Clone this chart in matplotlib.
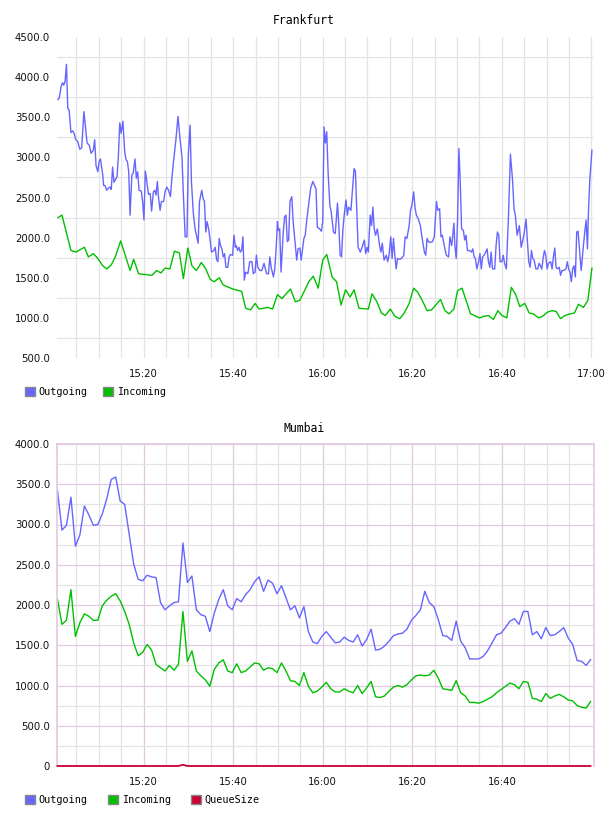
import matplotlib
matplotlib.use('Agg')
import matplotlib.pyplot as plt
from matplotlib.patches import Patch
import numpy as np

# time axis: minutes after 15:00
fra_out_t = [0.9, 1.2, 1.6, 1.9, 2.2, 2.5, 2.8, 3.1, 3.4, 3.8,
             4.2, 4.5, 4.9, 5.3, 5.8, 6.2, 6.7, 7.1, 7.4, 7.9,
             8.3, 8.8, 9.1, 9.4, 9.8, 10.1, 10.4, 10.9, 11.1, 11.4,
             11.8, 12.2, 12.6, 12.8, 13.1, 13.4, 13.8, 14.1, 14.4, 14.7,
             15.0, 15.4, 15.8, 16.1, 16.4, 16.7, 17.0, 17.4, 17.7, 18.1,
             18.4, 18.7, 19.0, 19.5, 19.8, 20.1, 20.4, 20.7, 21.1, 21.5,
             21.8, 22.2, 22.5, 22.8, 23.1, 23.3, 23.7, 24.0, 24.5, 24.8,
             25.2, 25.6, 26.0, 26.3, 26.7, 27.2, 27.7, 28.1, 28.6, 28.9,
             29.3, 29.7, 30.0, 30.4, 30.7, 31.1, 31.5, 31.9, 32.2, 32.5,
             33.0, 33.3, 33.6, 33.9, 34.2, 34.6, 34.9, 35.2, 35.7, 36.0,
             36.3, 36.6, 36.9, 37.2, 37.5, 37.8, 38.1, 38.4, 38.8, 39.1,
             39.4, 39.9, 40.2, 40.5, 40.7, 41.0, 41.3, 41.6, 41.9, 42.2,
             42.5, 42.8, 43.3, 43.7, 44.2, 44.5, 44.9, 45.2, 45.5, 46.0,
             46.4, 46.9, 47.2, 47.5, 47.9, 48.2, 48.5, 49.0, 49.3, 49.6,
             49.9, 50.1, 50.4, 50.7, 51.2, 51.5, 51.8, 52.1, 52.4, 52.7,
             53.1, 53.4, 53.9, 54.2, 54.5, 54.9, 55.2, 55.5, 55.8, 56.1,
             56.4, 56.9, 57.3, 57.8, 58.2, 58.5, 58.8, 59.3, 59.7, 60.0,
             60.3, 60.6, 60.9, 61.2, 61.6, 61.9, 62.4, 62.8, 63.3, 63.6,
             63.9, 64.2, 64.5, 64.8, 65.2, 65.5, 65.8, 66.3, 66.6, 67.0,
             67.3, 67.6, 67.9, 68.4, 68.8, 69.3, 69.6, 69.9, 70.2, 70.6,
             70.9, 71.2, 71.5, 71.8, 72.2, 72.7, 73.0, 73.3, 73.7, 74.2,
             74.5, 74.8, 75.2, 75.5, 75.8, 76.1, 76.4, 76.7, 77.2, 77.6,
             78.1, 78.4, 78.8, 79.3, 79.6, 79.9, 80.3, 80.6, 80.9, 81.3,
             81.8, 82.2, 82.7, 83.0, 83.3, 83.6, 84.0, 84.5, 84.9, 85.4,
             85.7, 86.1, 86.4, 86.7, 87.2, 87.6, 88.1, 88.4, 88.8, 89.3,
             89.5, 89.8, 90.1, 90.4, 90.7, 91.0, 91.4, 91.7, 92.0, 92.3,
             92.7, 93.2, 93.5, 93.8, 94.1, 94.4, 94.8, 95.1, 95.4, 95.7,
             96.0, 96.4, 96.7, 97.0, 97.3, 97.6, 97.9, 98.4, 98.7, 99.0,
             99.3, 99.6, 100.0, 100.3, 100.6, 101.0, 101.5, 101.9, 102.4, 102.7,
             103.0, 103.4, 103.9, 104.3, 104.6, 104.9, 105.4, 105.7, 106.0, 106.3,
             106.6, 106.9, 107.2, 107.6, 108.0, 108.3, 108.6, 108.9, 109.2, 109.5,
             109.8, 110.1, 110.4, 110.9, 111.2, 111.5, 111.8, 112.1, 112.4, 112.8,
             113.1, 113.4, 113.8, 114.3, 114.6, 114.9, 115.2, 115.5, 115.8, 116.1,
             116.4, 116.7, 117.0, 117.4, 117.7, 118.2, 118.5, 118.8, 119.1, 119.3,
             119.6, 120.1]
fra_out = [3720, 3740, 3880, 3930, 3900, 3950, 4160, 3610, 3590, 3310,
           3330, 3300, 3220, 3200, 3100, 3120, 3570, 3340, 3180, 3150,
           3050, 3090, 3220, 2900, 2820, 2950, 2980, 2780, 2650, 2650,
           2590, 2620, 2630, 2600, 2880, 2690, 2730, 2760, 3030, 3430,
           3300, 3450, 3070, 2970, 2950, 2820, 2280, 2780, 2800, 2980,
           2740, 2820, 2590, 2580, 2450, 2220, 2830, 2720, 2540, 2550,
           2330, 2570, 2590, 2530, 2700, 2530, 2340, 2450, 2450, 2570,
           2630, 2590, 2510, 2720, 2950, 3200, 3510, 3260, 2990, 2530,
           2010, 2010, 3030, 3400, 2700, 2320, 2110, 2010, 1930, 2450,
           2590, 2490, 2450, 2070, 2200, 2090, 1950, 1820, 1840, 1880,
           1730, 1700, 1990, 1900, 1860, 1760, 1800, 1630, 1630, 1760,
           1790, 1780, 2030, 1880, 1900, 1840, 1880, 1820, 1840, 2010,
           1470, 1570, 1550, 1700, 1700, 1550, 1570, 1780, 1630, 1590,
           1590, 1680, 1610, 1550, 1550, 1760, 1630, 1510, 1610, 1860,
           2200, 2090, 2110, 1570, 2070, 2260, 2280, 1950, 1970, 2450,
           2510, 2200, 1900, 1720, 1860, 1870, 1720, 1860, 1990, 2030,
           2200, 2430, 2610, 2700, 2650, 2610, 2130, 2110, 2080, 2200,
           3380, 3180, 3320, 2820, 2400, 2320, 2070, 2050, 2430, 2150,
           1780, 1760, 2090, 2280, 2470, 2280, 2380, 2340, 2570, 2860,
           2830, 2360, 1880, 1820, 1880, 1970, 1800, 1880, 1820, 2280,
           2150, 2380, 2110, 2030, 2110, 1900, 1820, 1930, 1720, 1780,
           1700, 1780, 2010, 1740, 1990, 1780, 1610, 1740, 1730, 1740,
           1780, 2010, 1990, 2150, 2340, 2400, 2570, 2380, 2280, 2240,
           2150, 1990, 1820, 1780, 1990, 1950, 1940, 1950, 2010, 2450,
           2340, 2360, 2010, 2030, 1880, 1780, 1760, 2010, 1900, 2180,
           1900, 1740, 2200, 3110, 2700, 2110, 2090, 1970, 2030, 1840,
           1840, 1820, 1860, 1760, 1740, 1610, 1700, 1800, 1610, 1760,
           1780, 1820, 1860, 1700, 1630, 1820, 1610, 1610, 1900, 2070,
           2030, 1700, 1700, 1780, 1680, 1610, 2320, 3040, 2700, 2360,
           2280, 2030, 2150, 1880, 1950, 2030, 2230, 1950, 1700, 1630,
           1840, 1740, 1720, 1610, 1610, 1680, 1650, 1610, 1740, 1840,
           1780, 1610, 1680, 1700, 1610, 1760, 1870, 1630, 1610, 1630,
           1530, 1590, 1590, 1610, 1700, 1610, 1570, 1450, 1610, 1650,
           1510, 2070, 2080, 1800, 1590, 1900, 2070, 2220, 1860, 2280,
           2700, 3090]

fra_in_t = [0.9, 1.8, 3.8, 4.9, 6.8, 7.7, 8.8, 9.8, 10.9, 11.8,
            12.8, 13.7, 14.9, 17.0, 17.8, 18.9, 21.9, 22.9, 23.9, 24.8,
            25.9, 26.9, 28.0, 28.9, 29.9, 30.8, 31.8, 32.9, 33.9, 34.9,
            35.8, 36.9, 37.8, 39.9, 41.9, 42.8, 43.9, 44.9, 45.8, 47.8,
            48.8, 49.9, 50.9, 52.8, 53.9, 54.9, 56.9, 57.9, 59.0, 60.0,
            60.9, 62.1, 63.1, 64.1, 65.1, 66.1, 67.0, 68.1, 70.2, 71.0,
            72.1, 73.1, 74.0, 75.1, 76.1, 77.2, 78.2, 79.3, 80.3, 81.2,
            82.2, 83.3, 84.3, 86.3, 87.3, 88.2, 89.3, 90.1, 91.1, 93.0,
            95.0, 96.0, 97.0, 98.1, 99.1, 100.0, 101.1, 102.1, 103.0, 104.0,
            105.1, 106.1, 107.0, 108.2, 109.1, 110.1, 111.2, 112.1, 113.1, 114.1,
            115.2, 116.2, 117.1, 118.2, 119.2, 120.1]
fra_in = [2250, 2280, 1840, 1820, 1880, 1760, 1800, 1740, 1650, 1610,
          1660, 1760, 1960, 1590, 1730, 1550, 1530, 1590, 1560, 1620,
          1610, 1830, 1810, 1490, 1870, 1650, 1590, 1690, 1610, 1480,
          1450, 1500, 1410, 1360, 1330, 1120, 1100, 1180, 1110, 1130,
          1110, 1290, 1240, 1360, 1200, 1220, 1450, 1520, 1370, 1720,
          1790, 1510, 1450, 1160, 1350, 1260, 1350, 1120, 1110, 1300,
          1200, 1060, 1030, 1110, 1020, 990, 1060, 1180, 1370, 1320,
          1220, 1090, 1100, 1230, 1090, 1050, 1110, 1340, 1370, 1050,
          1000, 1020, 1030, 980, 1090, 1030, 1000, 1380, 1300, 1140,
          1180, 1060, 1050, 1000, 1020, 1070, 1090, 1080, 990, 1030,
          1050, 1060, 1170, 1130, 1220, 1620]

# Mumbai: one sample per minute starting 15:00:48
mum_t = np.arange(120) + 0.8
mum_out = [3420, 2930, 2990, 3340, 2730, 2870, 3230, 3120, 2990, 3000,
           3130, 3320, 3560, 3590, 3290, 3250, 2880, 2510, 2320, 2300,
           2370, 2350, 2340, 2030, 1940, 1990, 2030, 2040, 2770, 2280,
           2360, 1940, 1880, 1860, 1670, 1900, 2070, 2190, 1990, 1940,
           2080, 2040, 2130, 2190, 2290, 2350, 2170, 2310, 2270, 2140,
           2240, 2090, 1940, 1990, 1840, 1980, 1670, 1540, 1520, 1610,
           1670, 1600, 1530, 1540, 1600, 1560, 1540, 1630, 1490, 1570,
           1700, 1440, 1450, 1490, 1550, 1620, 1640, 1650, 1700, 1810,
           1870, 1940, 2170, 2030, 1980, 1820, 1620, 1610, 1560, 1800,
           1550, 1470, 1330, 1330, 1330, 1360, 1430, 1530, 1630, 1650,
           1720, 1800, 1830, 1760, 1920, 1920, 1630, 1670, 1580, 1720,
           1620, 1630, 1670, 1720, 1590, 1510, 1310, 1300, 1250, 1320]
mum_in = [2070, 1760, 1810, 2190, 1610, 1780, 1890, 1860, 1810, 1810,
          1990, 2060, 2110, 2140, 2050, 1920, 1760, 1530, 1370, 1410,
          1510, 1440, 1260, 1220, 1180, 1250, 1190, 1260, 1920, 1300,
          1430, 1180, 1120, 1070, 990, 1200, 1280, 1320, 1180, 1160,
          1270, 1160, 1180, 1230, 1280, 1270, 1190, 1220, 1210, 1160,
          1280, 1180, 1060, 1050, 1000, 1160, 990, 910, 930, 980,
          1040, 960, 920, 920, 960, 930, 910, 1000, 900, 970,
          1050, 860, 850, 870, 930, 980, 1000, 980, 1010, 1070,
          1120, 1130, 1120, 1130, 1190, 1090, 960, 950, 940, 1060,
          910, 870, 790, 790, 780, 800, 830, 860, 910, 950,
          990, 1030, 1010, 960, 1050, 1040, 840, 830, 800, 900,
          840, 870, 890, 860, 820, 810, 750, 730, 720, 800]
mum_queue = [0] * 120
mum_queue[28] = 15

time_ticks = [20, 40, 60, 80, 100, 120]
time_labels = ['15:20', '15:40', '16:00', '16:20', '16:40', '17:00']

BLUE = '#6666ff'
GREEN = '#00c000'
RED = '#cc0033'
GRID = '#e4e4e4'
PINK = '#e2c8e2'
MONO = 'DejaVu Sans Mono'
FS = 7.3

fig = plt.figure(figsize=(6.08, 8.16), dpi=100)
ax1 = fig.add_axes([57 / 608, 458 / 816, 537 / 608, 321 / 816])
ax2 = fig.add_axes([57 / 608, 50 / 816, 537 / 608, 322 / 816])

# ---- Frankfurt ----
ax1.plot(fra_out_t, fra_out, color=BLUE, lw=1.0)
ax1.plot(fra_in_t, fra_in, color=GREEN, lw=1.0)
ax1.set_xlim(0.69, 120.56)
ax1.set_ylim(500, 4500)
yt = np.arange(500, 4501, 500)
ax1.set_yticks(yt)
ax1.set_yticklabels([f'{v:.1f}' for v in yt])
ax1.set_yticks(np.arange(750, 4500, 500), minor=True)
ax1.set_xticks(time_ticks)
ax1.set_xticklabels(time_labels)
ax1.set_xticks(np.arange(5, 121, 5), minor=True)
ax1.grid(False)
ax1.grid(which='minor', axis='y', color=GRID, lw=0.9)
ax1.grid(which='both', axis='x', color=GRID, lw=0.9)
for s in ax1.spines.values():
    s.set_visible(False)

# ---- Mumbai ----
ax2.plot(mum_t, mum_out, color=BLUE, lw=1.0)
ax2.plot(mum_t, mum_in, color=GREEN, lw=1.0)
ax2.plot(mum_t, mum_queue, color=RED, lw=1.3, clip_on=False, zorder=5)
ax2.set_xlim(0.69, 120.56)
ax2.set_ylim(0, 4000)
yt2 = np.arange(0, 4001, 500)
ax2.set_yticks(yt2)
ax2.set_yticklabels(['0'] + [f'{v:.1f}' for v in yt2[1:]])
ax2.set_yticks(np.arange(250, 4000, 500), minor=True)
ax2.set_xticks(time_ticks[:-1])
ax2.set_xticklabels(time_labels[:-1])
ax2.set_xticks([m for m in range(5, 120, 5) if m % 20], minor=True)
ax2.grid(which='major', color=PINK, lw=0.9)
ax2.grid(which='minor', color=GRID, lw=0.9)
for side, s in ax2.spines.items():
    s.set_color(PINK)
    s.set_linewidth(1.2)
ax2.spines['bottom'].set_visible(False)

for ax in (ax1, ax2):
    ax.set_axisbelow(True)
    ax.tick_params(which='both', length=0, labelsize=FS, colors='#111111')
    ax.tick_params(axis='y', pad=5)
    ax.tick_params(axis='x', pad=8)

fig.text(0.5, 1 - 20 / 816, 'Frankfurt', ha='center', va='center',
         family=MONO, fontsize=8.3)
fig.text(0.5, 1 - 429 / 816, 'Mumbai', ha='center', va='center',
         family=MONO, fontsize=8.3)

def box(c):
    return Patch(facecolor=c, edgecolor='#888888', lw=1)

fig.legend([box(BLUE), box(GREEN)], ['Outgoing', 'Incoming'],
           loc='center left', bbox_to_anchor=(25 / 608, 1 - 392 / 816),
           ncol=2, frameon=False, borderpad=0, borderaxespad=0,
           handlelength=1.0, handleheight=1.0, handletextpad=0.35,
           columnspacing=1.5, prop={'family': MONO, 'size': FS})
fig.legend([box(BLUE), box(GREEN), box(RED)], ['Outgoing', 'Incoming', 'QueueSize'],
           loc='center left', bbox_to_anchor=(25 / 608, 1 - 800 / 816),
           ncol=3, frameon=False, borderpad=0, borderaxespad=0,
           handlelength=1.0, handleheight=1.0, handletextpad=0.35,
           columnspacing=2.0, prop={'family': MONO, 'size': FS})

fig.savefig('out.png', dpi=100)
